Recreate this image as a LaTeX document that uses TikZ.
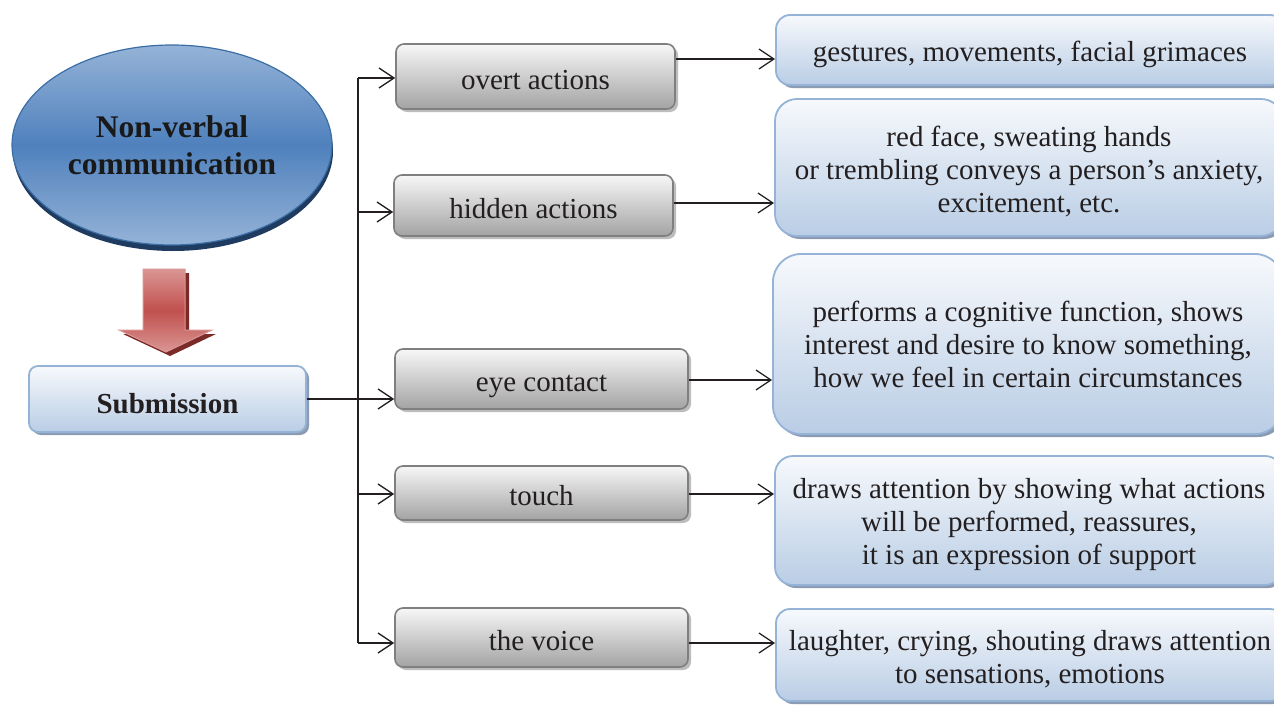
\documentclass[tikz,border=0pt]{standalone}
\usepackage{fontspec}
\setmainfont{Liberation Serif}
\usetikzlibrary{arrows.meta,shadows,shapes.geometric}
\definecolor{txt}{HTML}{231F20}
\definecolor{bluebord}{HTML}{95B3D7}
\definecolor{bluebot}{HTML}{B9CDE5}
\definecolor{bluetop}{HTML}{F7F9FC}
\definecolor{blueshadow}{HTML}{8A9BB3}
\definecolor{greytop}{HTML}{F7F7F7}
\definecolor{greybot}{HTML}{A3A3A3}
\definecolor{greybord}{HTML}{7F7F7F}
\definecolor{greyshadow}{HTML}{BDBDBD}
\definecolor{elltop}{HTML}{95B3D7}
\definecolor{ellmid}{HTML}{4F81BD}
\definecolor{ellbord}{HTML}{3A6EA5}
\definecolor{ellshadow}{HTML}{1F3B60}
\definecolor{redlight}{HTML}{DA9694}
\definecolor{redmid}{HTML}{C0504D}
\definecolor{redshadow}{HTML}{7B2A28}
\newcommand{\dn}[2][-6pt]{\raisebox{#1}[\height][\depth]{\begin{tabular}{@{}c@{}}#2\end{tabular}}}
\tikzset{
  txtfont/.style={font=\fontsize{29}{33}\selectfont, text=txt, align=center},
  greybox/.style={txtfont, draw=greybord, line width=1.6pt, rounded corners=8pt,
    top color=greytop, bottom color=greybot, inner sep=0pt,
    drop shadow={shadow xshift=3pt, shadow yshift=-3pt, fill=greyshadow, opacity=1}},
  bluebox/.style={txtfont, draw=bluebord, line width=1.8pt, rounded corners=14pt,
    top color=bluetop, bottom color=bluebot, inner sep=0pt,
    drop shadow={shadow xshift=3pt, shadow yshift=-3pt, fill=blueshadow, opacity=1}},
  arr/.style={line width=1.3pt, draw=txt, -{Straight Barb[length=15pt,width=20pt,line width=1.3pt]}},
  conn/.style={line width=1.3pt, draw=txt},
}
\begin{document}
\begin{tikzpicture}[x=1pt,y=-1pt]
\path[use as bounding box, clip] (0,0) rectangle (1274,704);
\fill[white] (0,0) rectangle (1274,704);

% ellipse
\fill[ellshadow] (173,151) ellipse [x radius=160pt, y radius=100pt];
\node[ellipse, minimum width=320pt, minimum height=200pt, draw=ellbord, line width=1.2pt,
  top color=elltop, bottom color=elltop, middle color=ellmid, inner sep=0pt,
  font=\fontsize{31.5}{37}\selectfont\bfseries, text=black!90, align=center]
  (nv) at (172,145) {Non-verbal\\communication};

% red arrow
\fill[redshadow] (147,273) -- (189,273) -- (189,334) -- (216,334) -- (170,356) -- (123,334) -- (147,334) -- cycle;
\shade[top color=redlight, bottom color=redlight, middle color=redmid, draw=redlight, line width=1pt]
  (143,269) -- (185,269) -- (185,330) -- (212,330) -- (166,352) -- (119,330) -- (143,330) -- cycle;

% submission
\node[bluebox, rounded corners=9pt, minimum width=277pt, minimum height=66pt,
  font=\fontsize{29}{33}\selectfont\bfseries] (sub) at (167.5,399) {\dn[-8pt]{Submission}};

% grey boxes
\node[greybox, minimum width=279pt, minimum height=65pt] (ov) at (535.5,76.5) {\dn{overt actions}};
\node[greybox, minimum width=279pt, minimum height=61pt] (hi) at (533.5,205.5) {\dn{hidden actions}};
\node[greybox, minimum width=293pt, minimum height=60pt] (ey) at (541.5,379) {\dn{eye contact}};
\node[greybox, minimum width=293pt, minimum height=54pt] (to) at (541.5,493) {\dn{touch}};
\node[greybox, minimum width=293pt, minimum height=59pt] (vo) at (541.5,637.5) {\dn{the voice}};

% blue boxes (right)
\node[bluebox, minimum width=508pt, minimum height=70pt] (g1) at (1030,50) {\dn[-5pt]{gestures, movements, facial grimaces}};
\node[bluebox, rounded corners=22pt, minimum width=508pt, minimum height=137pt] (g2) at (1029,167.5)
  {\dn[-5pt]{red face, sweating hands\\or trembling conveys a person’s anxiety,\\excitement, etc.}};
\node[bluebox, rounded corners=28pt, minimum width=510pt, minimum height=180pt] (g3) at (1028,344)
  {\dn[-4pt]{performs a cognitive function, shows\\interest and desire to know something,\\how we feel in certain circumstances}};
\node[bluebox, rounded corners=18pt, minimum width=508pt, minimum height=129pt] (g4) at (1029,520.5)
  {\dn[-4pt]{draws attention by showing what actions\\will be performed, reassures,\\it is an expression of support}};
\node[bluebox, rounded corners=14pt, minimum width=508pt, minimum height=92pt] (g5) at (1030,655)
  {\dn[-5pt]{laughter, crying, shouting draws attention\\to sensations, emotions}};

% trunk
\coordinate (t1) at (358,78);
\coordinate (t2) at (358,212);
\coordinate (t4) at (358,494);
\coordinate (t5) at (358,643);
\draw[conn] (t1) -- (t5);
\draw[arr] (t1) -- (t1 -| ov.west);
\draw[arr] (t2) -- (t2 -| hi.west);
\draw[arr] (t4) -- (t4 -| to.west);
\draw[arr] (t5) -- (t5 -| vo.west);
\draw[arr] (sub.east) -- (sub.east -| ey.west);

% right connectors
\coordinate (r1) at (0,59);
\coordinate (r2) at (0,203);
\coordinate (r3) at (0,380);
\coordinate (r4) at (0,494);
\coordinate (r5) at (0,643);
\draw[arr] (ov.east |- r1) -- (g1.west |- r1);
\draw[arr] (hi.east |- r2) -- (g2.west |- r2);
\draw[arr] (ey.east |- r3) -- (g3.west |- r3);
\draw[arr] (to.east |- r4) -- (g4.west |- r4);
\draw[arr] (vo.east |- r5) -- (g5.west |- r5);
\end{tikzpicture}
\end{document}
